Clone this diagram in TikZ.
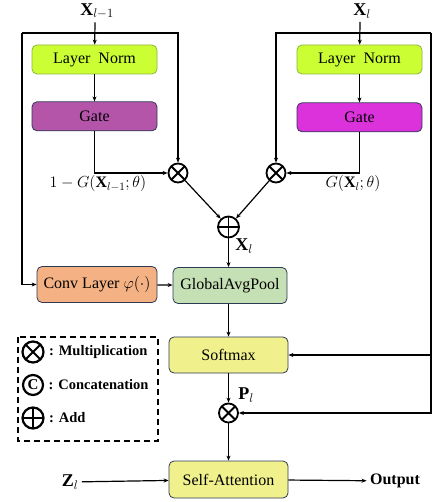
\RequirePackage{fix-cm}
\documentclass[tikz,border=0pt]{standalone}
\usepackage{amsmath}
\usepackage{amssymb}
\usepackage{fontspec}
\setmainfont{Liberation Serif}
\usepackage{xcolor}
\usetikzlibrary{arrows.meta,positioning}

\definecolor{normfill}{HTML}{CCFF33}
\definecolor{normline}{HTML}{8CB43C}
\definecolor{gatefillA}{HTML}{B455AA}
\definecolor{gatefillB}{HTML}{DC32DC}
\definecolor{convfill}{HTML}{F4B183}
\definecolor{poolfill}{HTML}{C5E0B4}
\definecolor{softfill}{HTML}{F0F08C}
\definecolor{boxline}{HTML}{2E3A55}

\begin{document}
\begin{tikzpicture}[
    x=1pt, y=-1pt,
    font=\fontsize{16}{19}\selectfont,
    box/.style={draw=boxline, rounded corners=5pt, align=center, minimum width=125pt,
                minimum height=29pt, line width=0.8pt, inner sep=2pt},
    normbox/.style={box, draw=normline, fill=normfill},
    midbox/.style={box, minimum width=119pt, minimum height=36pt},
    biglabel/.style={font=\fontsize{18}{21}\selectfont},
    leglabel/.style={font=\fontsize{14.5}{17}\selectfont\bfseries},
    arrow/.style={-{Stealth[length=5pt, width=4pt]}, line width=1.2pt},
    wire/.style={line width=1.2pt},
    mulop/.style={circle, draw, line width=1.8pt, minimum size=19pt, inner sep=0pt,
                path picture={\draw[line width=1.8pt]
                  (path picture bounding box.north west) -- (path picture bounding box.south east)
                  (path picture bounding box.north east) -- (path picture bounding box.south west);}},
    addop/.style={circle, draw, line width=1.8pt, minimum size=21pt, inner sep=0pt,
                path picture={\draw[line width=1.8pt]
                  (path picture bounding box.north) -- (path picture bounding box.south)
                  (path picture bounding box.west) -- (path picture bounding box.east);}},
    catop/.style={circle, draw, line width=2.2pt, minimum size=20pt, inner sep=0pt,
                font=\fontsize{15}{17}\selectfont\bfseries}
]
  \useasboundingbox (0,0) rectangle (432,502);

  % two gated branches
  \node[biglabel] (xprev) at (97,11) {$\mathbf{X}_{l-1}$};
  \node[normbox] (normA) at (94.5,59.5) {Layer~~Norm};
  \node[box, fill=gatefillA, below=27pt of normA] (gateA) {Gate};
  \node[mulop] (mulA) at (178,173) {};

  \node[biglabel] (xcur) at (362,11) {$\mathbf{X}_{l}$};
  \node[normbox] (normB) at (359.5,59.5) {Layer~~Norm};
  \node[box, fill=gatefillB, below=28pt of normB] (gateB) {Gate};
  \node[mulop] (mulB) at (276,173) {};

  \node[addop] (add) at (228.5,227) {};

  \node (gA) at (98,184) {$1-G(\mathbf{X}_{l-1};\theta)$};
  \node (gB) at (353,184) {$G(\mathbf{X}_{l};\theta)$};

  % fusion path
  \node[box, fill=convfill, minimum width=120pt, minimum height=36pt] (conv) at (97,284.5) {Conv Layer $\varphi(\cdot)$};
  \node[midbox, fill=poolfill, minimum width=114pt] (pool) at (230,285.5) {GlobalAvgPool};
  \node[midbox, fill=softfill] (soft) at (228.5,355) {Softmax};
  \node[mulop] (mulC) at (228.5,413) {};
  \node[midbox, fill=softfill, minimum height=37pt] (attn) at (228.5,479.5) {Self-Attention};
  \node[biglabel] (zin) at (70,482) {$\mathbf{Z}_{l}$};
  \node (out) at (395,481) {\textbf{Output}};
  \node[biglabel] (xfuse) at (244,246) {$\mathbf{X}_{l}$};
  \node[biglabel] (pl) at (246,395) {$\mathbf{P}_{l}$};

  \coordinate (jA) at (95,33);
  \coordinate (jB) at (360,33);
  \coordinate (loopL) at (22,33);
  \coordinate (loopR) at (431,33);

  \draw[arrow] (jA |- xprev.south) -- (normA);
  \draw[arrow] (normA) -- (gateA);
  \draw[wire] (jA) -- (loopL);
  \draw[arrow] (loopL) |- (conv.west);
  \draw[arrow] (jA) -| (mulA.north);
  \draw[arrow] (gateA.south) |- (mulA.west);

  \draw[arrow] (jB |- xcur.south) -- (normB);
  \draw[arrow] (normB) -- (gateB);
  \draw[arrow] (jB) -| (mulB.north);
  \draw[wire] (jB) -- (loopR);
  \draw[arrow] (gateB.south) |- (mulB.east);

  \draw[arrow] (mulA) -- (add);
  \draw[arrow] (mulB) -- (add);
  \draw[arrow] (add) -- (add |- pool.north);
  \draw[arrow] (conv) -- (pool);
  \draw[arrow] (pool.south -| soft) -- (soft);
  \draw[arrow] (loopR) |- (soft.east);
  \draw[arrow] (loopR) |- (mulC.east);
  \draw[arrow] (soft) -- (mulC);
  \draw[arrow] (mulC) -- (attn);
  \draw[arrow] (zin) -- (attn);
  \draw[arrow] (attn) -- (out);

  % legend
  \draw[line width=2pt, dash pattern=on 6pt off 4pt] (18,337) rectangle (158,441);
  \node[mulop, line width=2.2pt, minimum size=21pt] (legmul) at (33,352) {};
  \node[leglabel, right=1pt of legmul] {: Multiplication};
  \node[catop] (legcat) at (33,385) {C};
  \node[leglabel, right=1pt of legcat] {: Concatenation};
  \node[addop, line width=2.2pt, minimum size=21pt] (legadd) at (33,418) {};
  \node[leglabel, right=1pt of legadd] {: Add};
\end{tikzpicture}
\end{document}
